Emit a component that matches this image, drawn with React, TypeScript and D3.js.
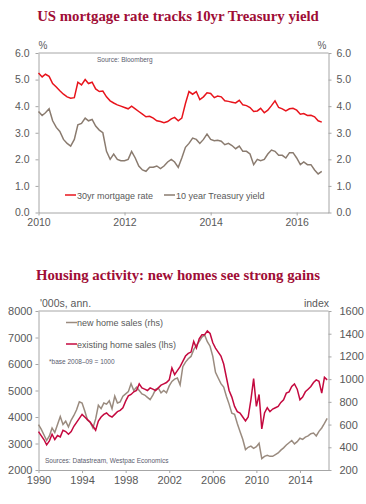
import React, { useEffect, useRef } from 'react';
import * as d3 from 'd3';

// US mortgage rate vs 10yr Treasury, monthly Jan 2010 - Aug 2016 (%)
const rateMonths = d3.timeMonth.range(new Date(2010, 0, 1), new Date(2016, 8, 1));
const mortgageRate = [
  5.25, 5.10, 5.20, 5.12, 4.85, 4.72, 4.58, 4.45, 4.35, 4.30, 4.32, 4.90,
  4.80, 5.00, 4.85, 4.90, 4.65, 4.55, 4.57, 4.35, 4.20, 4.12, 4.05, 4.00,
  3.95, 3.90, 4.00, 3.90, 3.80, 3.70, 3.60, 3.62, 3.55, 3.45, 3.42, 3.38,
  3.42, 3.52, 3.58, 3.45, 3.55, 4.10, 4.55, 4.45, 4.55, 4.25, 4.35, 4.50,
  4.48, 4.32, 4.38, 4.35, 4.20, 4.18, 4.15, 4.12, 4.22, 4.05, 4.02, 3.95,
  3.80, 3.82, 3.92, 3.75, 3.85, 4.02, 4.20, 3.95, 3.90, 3.82, 3.90, 3.92,
  3.85, 3.70, 3.72, 3.65, 3.66, 3.60, 3.45, 3.40,
];
const treasuryYield = [
  3.80, 3.65, 3.75, 3.90, 3.45, 3.20, 3.05, 2.75, 2.60, 2.50, 2.75, 3.30,
  3.35, 3.55, 3.45, 3.50, 3.25, 3.10, 3.00, 2.30, 2.00, 2.20, 2.00, 1.95,
  1.95, 2.00, 2.30, 2.05, 1.75, 1.60, 1.55, 1.70, 1.70, 1.75, 1.65, 1.75,
  1.90, 2.00, 1.90, 1.70, 2.05, 2.45, 2.60, 2.80, 2.75, 2.60, 2.75, 2.95,
  2.75, 2.70, 2.72, 2.68, 2.55, 2.60, 2.52, 2.40, 2.50, 2.30, 2.30, 2.20,
  1.80, 2.00, 1.95, 2.00, 2.20, 2.35, 2.30, 2.15, 2.15, 2.05, 2.25, 2.25,
  2.05, 1.80, 1.90, 1.80, 1.80, 1.60, 1.45, 1.55,
];
const rateTicks = [0, 1, 2, 3, 4, 5, 6];
const rateYears = [2010, 2012, 2014, 2016];

// Home sales, quarterly Q1 1990 - Q3 2016
const salesQuarters = d3.timeMonth.range(new Date(1990, 0, 1), new Date(2016, 9, 1), 3);
const existingSales = [ // '000s, annualised (lhs)
  3450, 3300, 3150, 2950, 3100, 3350, 3150, 3300, 3250, 3500, 3450, 3350,
  3450, 3650, 3800, 3950, 4100, 4000, 3900, 3800, 3650, 3500, 3850, 4000,
  4100, 4150, 4050, 4000, 4100, 4200, 4250, 4350, 4600, 4800, 4850, 4950,
  5000, 5250, 5100, 5050, 5000, 5100, 5050, 5000, 5100, 5200, 5250, 5300,
  5400, 5850, 5600, 5750, 5900, 6100, 6300, 6400, 6450, 6850, 6600, 6950,
  7100, 7100, 7250, 7150, 6800, 6600, 6450, 6300, 6000, 5500, 5000, 4750,
  4400, 4200, 4150, 4000, 3850, 4000, 4650, 5450, 4400, 4850, 3550, 4150,
  4350, 4200, 4300, 4350, 4400, 4550, 4650, 4900, 4950, 5150, 5250, 5050,
  4650, 4750, 4950, 5050, 5150, 5300, 5400, 5350, 4900, 5500, 5400,
];
const newSales = [ // index, base 2008-09 = 1000 (rhs)
  600, 560, 510, 460, 500, 570, 530, 600, 670, 600, 630, 580,
  640, 680, 730, 800, 790, 720, 640, 620, 570, 650, 770, 740,
  790, 780, 810, 740, 850, 790, 800, 850, 870, 890, 960, 900,
  930, 900, 870, 860, 840, 820, 860, 910, 920, 880, 900, 880,
  940, 980, 1000, 1010, 950, 1110, 1150, 1180, 1200, 1260, 1300, 1330,
  1370, 1390, 1330, 1290, 1200, 1060, 1010, 960, 930, 850, 780, 700,
  690, 610, 540, 470, 380, 400, 410, 390, 405, 435, 300, 320,
  330, 320, 320, 335, 350, 375, 395, 420, 440, 460, 430, 450,
  480, 470, 490, 500, 520, 525, 500, 540, 570, 610, 655,
];
const salesLeftTicks = [2000, 3000, 4000, 5000, 6000, 7000, 8000];
const salesRightTicks = [200, 400, 600, 800, 1000, 1200, 1400, 1600];
const salesYears = [1990, 1994, 1998, 2002, 2006, 2010, 2014];

const SANS = '"Liberation Sans", Arial, sans-serif';
const SERIF = '"Liberation Serif", "Times New Roman", serif';
const AXIS = '#a6a6a6';
const LABEL = '#595959';
const TITLE = '#9f0d36';

const App: React.FC = () => {
  const svgRef = useRef<SVGSVGElement>(null);

  useEffect(() => {
    if (!svgRef.current) return;
    const svg = d3.select(svgRef.current);
    svg.selectAll('*').remove();

    svg.append('rect').attr('width', 366).attr('height', 504).attr('fill', '#fff');

    const styleAxis = (g: any, size: number) => {
      g.select('.domain').attr('stroke', AXIS);
      g.selectAll('.tick line').attr('stroke', AXIS);
      g.selectAll('.tick text')
        .attr('fill', LABEL)
        .attr('font-size', size)
        .attr('font-family', SANS);
    };

    const title = (text: string, y: number) =>
      svg.append('text')
        .attr('x', 178).attr('y', y)
        .attr('text-anchor', 'middle')
        .attr('font-family', SERIF).attr('font-weight', 'bold')
        .attr('font-size', 14.8).attr('fill', TITLE)
        .text(text);

    const small = (text: string, x: number, y: number, anchor = 'start', size = 10) =>
      svg.append('text')
        .attr('x', x).attr('y', y)
        .attr('text-anchor', anchor)
        .attr('font-family', SANS).attr('font-size', size)
        .attr('fill', LABEL)
        .text(text);

    // ---------- Chart 1: mortgage rate vs treasury ----------
    title('US mortgage rate tracks 10yr Treasury yield', 20.5);

    const x1 = d3.scaleTime()
      .domain([new Date(2010, 0, 1), new Date(2016, 8, 27)])
      .range([38.5, 328.5]);
    const y1 = d3.scaleLinear().domain([0, 6]).range([212.5, 53]);

    svg.append('line')
      .attr('x1', x1.range()[0]).attr('x2', x1.range()[1])
      .attr('y1', y1(6)).attr('y2', y1(6))
      .attr('stroke', AXIS);

    svg.append('g')
      .attr('transform', `translate(${x1.range()[0]},0)`)
      .call(d3.axisLeft(y1).tickValues(rateTicks).tickFormat(d3.format('.1f'))
        .tickSize(3).tickSizeOuter(0).tickPadding(6))
      .call((g: any) => styleAxis(g, 10.5));
    svg.append('g')
      .attr('transform', `translate(${x1.range()[1]},0)`)
      .call(d3.axisRight(y1).tickValues(rateTicks).tickFormat(d3.format('.1f'))
        .tickSize(3).tickSizeOuter(0).tickPadding(5))
      .call((g: any) => styleAxis(g, 10.5));
    svg.append('g')
      .attr('transform', `translate(0,${y1(0)})`)
      .call(d3.axisBottom(x1)
        .tickValues(rateYears.map(yr => new Date(yr, 0, 1)))
        .tickFormat(d3.timeFormat('%Y') as any)
        .tickSize(3).tickSizeOuter(0).tickPadding(3))
      .call((g: any) => styleAxis(g, 10.5));

    small('%', 43, 49, 'middle');
    small('%', 322, 49, 'middle');
    small('Source: Bloomberg', 97, 62, 'start', 6.5).attr('fill', '#5a5c6e');

    const line1 = (vals: number[]) => d3.line<Date>()
      .x(d => x1(d))
      .y((d, i) => y1(vals[i]))(rateMonths);

    svg.append('path')
      .attr('d', line1(treasuryYield))
      .attr('fill', 'none').attr('stroke', '#8a7b6f').attr('stroke-width', 1.5);
    svg.append('path')
      .attr('d', line1(mortgageRate))
      .attr('fill', 'none').attr('stroke', '#e8141c').attr('stroke-width', 1.5);

    // legend
    svg.append('line').attr('x1', 65).attr('x2', 76).attr('y1', 195).attr('y2', 195)
      .attr('stroke', '#e8141c').attr('stroke-width', 1.5);
    small('30yr mortgage rate', 77, 198.5, 'start', 9);
    svg.append('line').attr('x1', 164).attr('x2', 175).attr('y1', 195).attr('y2', 195)
      .attr('stroke', '#8a7b6f').attr('stroke-width', 1.5);
    small('10 year Treasury yield', 176, 198.5, 'start', 9);

    // ---------- Chart 2: housing activity ----------
    title('Housing activity: new homes see strong gains', 279.5);

    const x2 = d3.scaleTime()
      .domain([new Date(1990, 0, 1), new Date(2016, 7, 15)])
      .range([38.5, 328.5]);
    const yL = d3.scaleLinear().domain([2000, 8000]).range([470, 311]);
    const yR = d3.scaleLinear().domain([200, 1600]).range([470, 311]);

    svg.append('line')
      .attr('x1', x2.range()[0]).attr('x2', x2.range()[1])
      .attr('y1', yL(8000)).attr('y2', yL(8000))
      .attr('stroke', AXIS);

    svg.append('g')
      .attr('transform', `translate(${x2.range()[0]},0)`)
      .call(d3.axisLeft(yL).tickValues(salesLeftTicks).tickFormat(d3.format('d'))
        .tickSize(3).tickSizeOuter(0).tickPadding(3))
      .call((g: any) => styleAxis(g, 11));
    svg.append('g')
      .attr('transform', `translate(${x2.range()[1]},0)`)
      .call(d3.axisRight(yR).tickValues(salesRightTicks).tickFormat(d3.format('d'))
        .tickSize(3).tickSizeOuter(0).tickPadding(8))
      .call((g: any) => styleAxis(g, 11));
    svg.append('g')
      .attr('transform', `translate(0,${yL(2000)})`)
      .call(d3.axisBottom(x2)
        .tickValues(salesYears.map(yr => new Date(yr, 0, 1)))
        .tickFormat(d3.timeFormat('%Y') as any)
        .tickSize(3).tickSizeOuter(0).tickPadding(3))
      .call((g: any) => styleAxis(g, 11));

    small("'000s, ann.", 40, 307, 'start', 10.5);
    small('index', 329, 307, 'end', 10.5);
    small('*base 2008\u201309 = 1000', 49, 364, 'start', 6.5).attr('fill', '#5a5c6e');
    small('Sources: Datastream, Westpac Economics', 45, 463, 'start', 6.5).attr('fill', '#5a5c6e');

    svg.append('path')
      .attr('d', d3.line<Date>().x(d => x2(d)).y((d, i) => yR(newSales[i]))(salesQuarters))
      .attr('fill', 'none').attr('stroke', '#9a8b7f').attr('stroke-width', 1.5);
    svg.append('path')
      .attr('d', d3.line<Date>().x(d => x2(d)).y((d, i) => yL(existingSales[i]))(salesQuarters))
      .attr('fill', 'none').attr('stroke', '#c4093f').attr('stroke-width', 1.5);

    svg.append('line').attr('x1', 66).attr('x2', 77).attr('y1', 322.5).attr('y2', 322.5)
      .attr('stroke', '#9a8b7f').attr('stroke-width', 1.5);
    small('new home sales (rhs)', 77, 326, 'start', 9);
    svg.append('line').attr('x1', 66).attr('x2', 77).attr('y1', 344).attr('y2', 344)
      .attr('stroke', '#c4093f').attr('stroke-width', 1.5);
    small('existing home sales (lhs)', 77, 347.5, 'start', 9);
  }, []);

  return (
    <svg
      ref={svgRef}
      width={366}
      height={504}
      style={{ position: 'absolute', left: 0, top: 0, display: 'block' }}
    />
  );
};

export default App;
